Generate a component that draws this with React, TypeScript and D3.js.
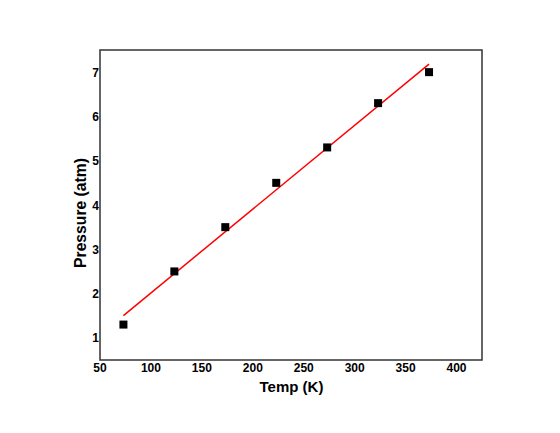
import React from "react";
import * as d3 from "d3";

const temps = [73, 123, 173, 223, 273, 323, 373];
const pressures = [1.3, 2.5, 3.5, 4.5, 5.3, 6.3, 7.0];
const xTicks = [50, 100, 150, 200, 250, 300, 350, 400];
const yTicks = [1, 2, 3, 4, 5, 6, 7];

export default function App() {
  const W = 560, H = 433;
  const left = 100, top = 50, right = 482, bottom = 360;
  const x = d3.scaleLinear().domain([50, 425]).range([left, right]);
  const y = d3.scaleLinear().domain([0.5, 7.5]).range([bottom, top]);

  const mx = d3.mean(temps)!;
  const my = d3.mean(pressures)!;
  let sxy = 0, sxx = 0;
  temps.forEach((t, i) => { sxy += (t - mx) * (pressures[i] - my); sxx += (t - mx) ** 2; });
  const slope = sxy / sxx;
  const intercept = my - slope * mx;
  const x0 = d3.min(temps)!, x1 = d3.max(temps)!;
  const line = d3.line<number>().x(d => x(d)).y(d => y(intercept + slope * d));

  const font = "'Liberation Sans', Arial, sans-serif";
  return (
    <svg width={W} height={H} style={{ position: "absolute", left: 0, top: 0 }}>
      <rect x={0} y={0} width={W} height={H} fill="#fff" />
      <rect x={left} y={top} width={right - left} height={bottom - top} fill="none" stroke="#333" strokeWidth={1.5} />
      <path d={line([x0, x1]) || ""} stroke="#ff0000" strokeWidth={1.5} fill="none" />
      {temps.map((t, i) => (
        <rect key={i} x={x(t) - 4} y={y(pressures[i]) - 4} width={8} height={8} fill="#000" />
      ))}
      {xTicks.map(t => (
        <text key={t} x={x(t)} y={372} textAnchor="middle" fontFamily={font} fontWeight="bold" fontSize={12} fill="#000">{t}</text>
      ))}
      {yTicks.map(t => (
        <text key={t} x={left - 1} y={y(t) + 4.5} textAnchor="end" fontFamily={font} fontWeight="bold" fontSize={12} fill="#000">{t}</text>
      ))}
      <text x={291.5} y={392} textAnchor="middle" fontFamily={font} fontWeight="bold" fontSize={15} fill="#000">Temp (K)</text>
      <text transform={`translate(86,213) rotate(-90)`} textAnchor="middle" fontFamily={font} fontWeight="bold" fontSize={15.7} fill="#000">Pressure (atm)</text>
    </svg>
  );
}
